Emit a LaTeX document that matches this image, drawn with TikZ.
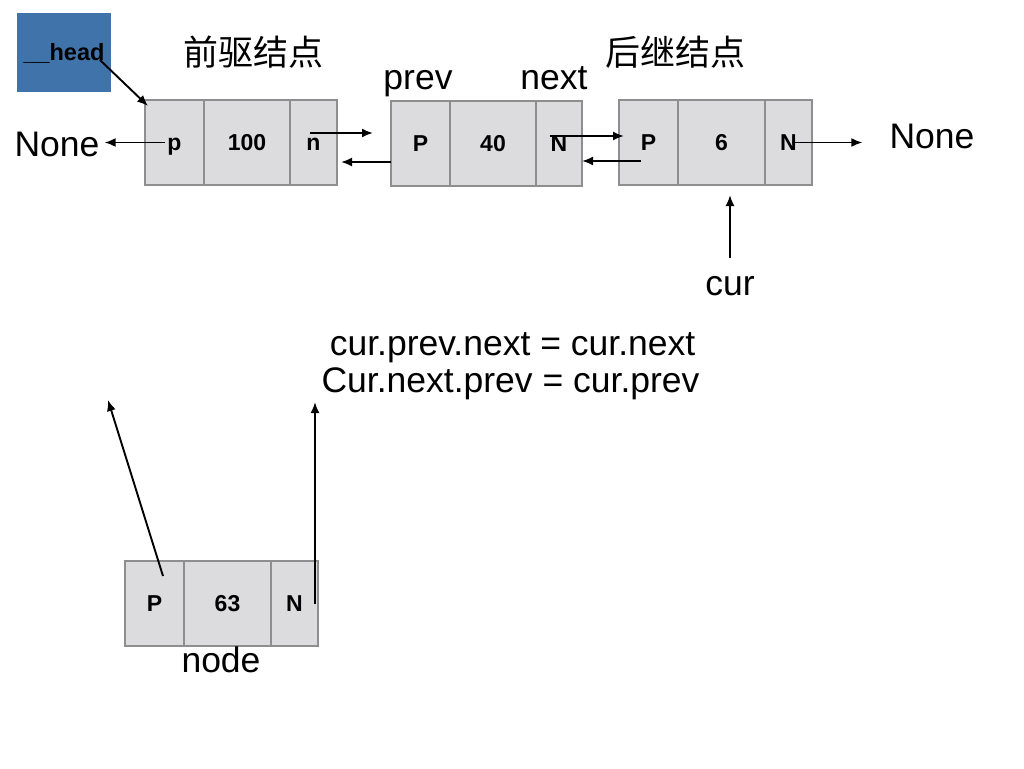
\documentclass[tikz,border=0pt]{standalone}
\usepackage{fontspec}
\setmainfont{Liberation Sans}
\newfontfamily\cjk{Noto Sans CJK SC}
\usetikzlibrary{arrows.meta}
\definecolor{cellfill}{HTML}{DCDCDF}
\definecolor{cellborder}{HTML}{8E8E8E}
\definecolor{headblue}{HTML}{4073A9}
\tikzset{
  cell/.style={draw=cellborder, fill=cellfill, line width=2pt, minimum height=85pt,
    inner sep=0pt, outer sep=0pt, anchor=north west, font=\bfseries\fontsize{23}{23}\selectfont,
    text height=16.5pt, text depth=0pt},
  lbl/.style={inner sep=0pt, anchor=base, font=\fontsize{35.5}{40}\selectfont},
  cjklbl/.style={inner sep=0pt, anchor=base, font=\cjk\fontsize{35}{40}\selectfont},
  arr/.style={-{Latex[length=11pt,width=9pt]}, line width=1.9pt, black}
}
\begin{document}
\begin{tikzpicture}[x=1pt,y=-1pt]
\useasboundingbox (0,0) rectangle (1024,768);
\fill[white] (0,0) rectangle (1024,768);

% head
\node[fill=headblue, minimum width=94pt, minimum height=79pt, inner sep=0pt, outer sep=0pt, anchor=north west,
  font=\bfseries\fontsize{23.5}{23.5}\selectfont, text height=16.5pt, text depth=0pt] (head) at (17,13) {\_\_head};

% node 1
\node[cell, minimum width=59pt] (p1) at (145,100) {p};
\node[cell, minimum width=86pt] (d1) at (p1.north east) {100};
\node[cell, minimum width=47pt] (n1) at (d1.north east) {n};
% node 2
\node[cell, minimum width=59pt] (p2) at (391,101) {P};
\node[cell, minimum width=86pt] (d2) at (p2.north east) {40};
\node[cell, minimum width=46pt] (n2) at (d2.north east) {N};
% node 3
\node[cell, minimum width=59pt] (p3) at (619,100) {P};
\node[cell, minimum width=87pt] (d3) at (p3.north east) {6};
\node[cell, minimum width=47pt] (n3) at (d3.north east) {N};
% node 4
\node[cell, minimum width=59pt] (p4) at (125,561) {P};
\node[cell, minimum width=87pt] (d4) at (p4.north east) {63};
\node[cell, minimum width=47pt] (n4) at (d4.north east) {N};

% labels
\node[cjklbl] (pre) at (253,65) {前驱结点};
\node[cjklbl] (suc) at (675,65) {后继结点};
\node[lbl] (prevlbl) at (418,89) {prev};
\node[lbl] (nextlbl) at (554,89) {next};
\node[lbl] (noneL) at (57,156) {None};
\node[lbl] (noneR) at (932,148) {None};
\node[lbl] (curlbl) at (730,295) {cur};
\node[lbl] (line1) at (512.5,355) {cur.prev.next = cur.next};
\node[lbl] (line2) at (510.5,392) {Cur.next.prev = cur.prev};
\node[lbl] (nodelbl) at (221,672) {node};

% start points of the connectors
\coordinate (sh) at ([shift={(-11,47)}]head.north east);
\coordinate (th) at ([shift={(3,6)}]p1.north west);
\coordinate (sp1) at ([shift={(-9.5,0)}]p1.center);
\coordinate (sn1) at ([shift={(-3.5,-9.5)}]n1.center);
\coordinate (sp2) at ([shift={(0,18.5)}]p2.west);
\coordinate (sn2) at ([shift={(-9.5,-7.5)}]n2.center);
\coordinate (sp3) at ([shift={(-7.5,18.5)}]p3.center);
\coordinate (sn3) at ([shift={(3.5,0)}]n3.center);
\coordinate (scur) at ([shift={(0,-37)}]curlbl.base);
\coordinate (sp4) at ([shift={(8.5,-27.5)}]p4.center);
\coordinate (sn4) at ([shift={(20.5,0)}]n4.center);
\coordinate (up1) at (108,400);
\coordinate (up2) at (sn4 |- 0,402);

% arrows
\draw[arr] (sh) -- (th);
\draw[arr, shorten >=5pt] (sp1) -- (sp1 -| noneL.east);
\draw[arr, shorten >=18pt] (sn1) -- (sn1 -| p2.west);
\draw[arr, shorten >=4pt] (sp2) -- (sp2 -| n1.east);
\draw[arr, shorten >=-5pt] (sn2) -- (sn2 -| p3.west);
\draw[arr] (sp3) -- (sp3 -| n2.east);
\draw[arr, shorten >=27pt] (sn3) -- (sn3 -| noneR.west);
\draw[arr, shorten >=10pt] (scur) -- (scur |- d3.south);
\draw[arr] (sp4) -- (up1);
\draw[arr] (sn4) -- (up2);
\end{tikzpicture}
\end{document}
